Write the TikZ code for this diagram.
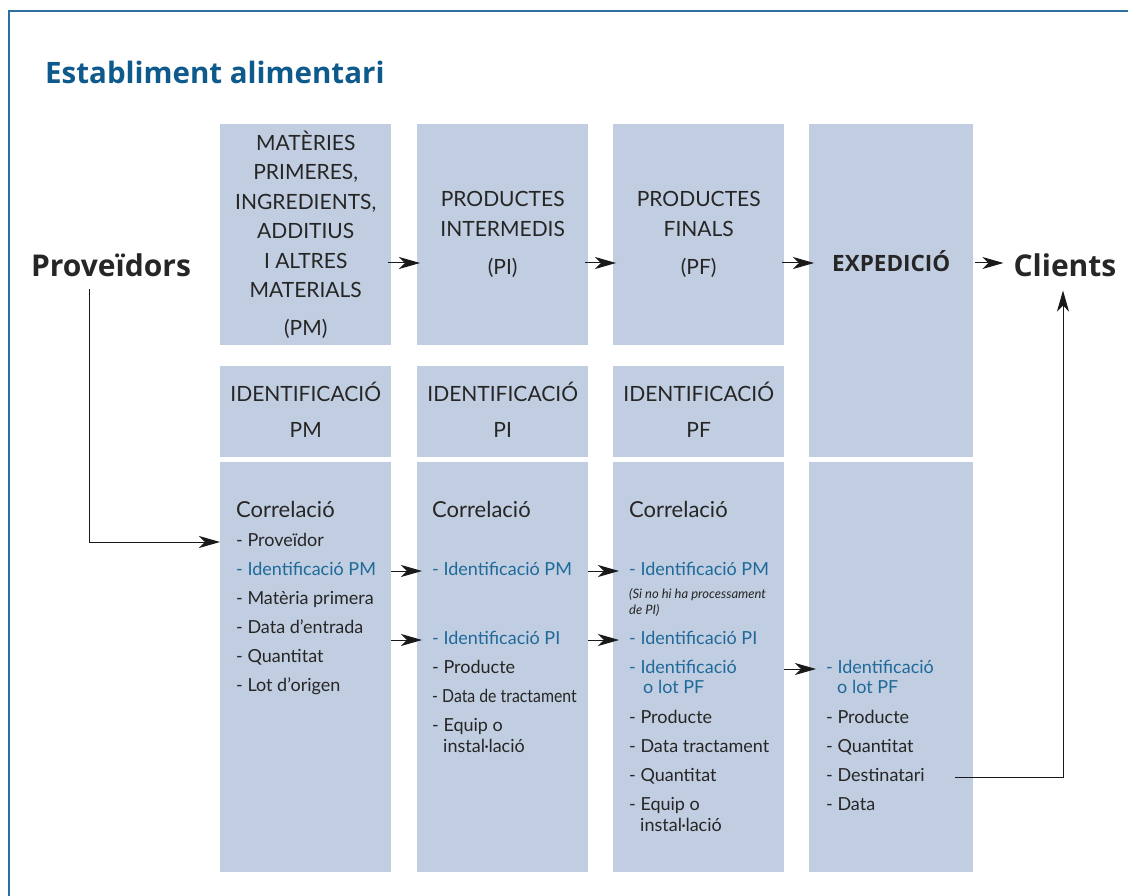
\documentclass[tikz,border=0pt]{standalone}
\usepackage{fontspec}
\setmainfont{Lato}
\newfontfamily\headfont{Open Sans}
\usetikzlibrary{arrows.meta}

\definecolor{boxfill}{HTML}{C1CDE0}
\definecolor{linkblue}{HTML}{1F6A9A}
\definecolor{titleblue}{HTML}{0F5A8C}
\definecolor{framecol}{HTML}{2D6FA0}

\begin{document}
\begin{tikzpicture}[x=1pt,y=-1pt,
		every node/.style={inner sep=0pt,text=black!85},
		box/.style={fill=boxfill,anchor=north west,minimum width=171pt,align=center,
			font=\fontsize{21}{29.5}\selectfont},
		item/.style={anchor=west,text height=13pt,text depth=4pt,font=\fontsize{18}{20}\selectfont},
		link/.style={item,text=linkblue},
		corr/.style={item,font=\fontsize{22}{24}\selectfont},
		side/.style={anchor=base,font=\headfont\bfseries\fontsize{30}{32}\selectfont},
		arr/.style={-{Stealth[length=21pt,width=12pt,inset=6pt]},line width=1pt,draw=black!90}]
	\useasboundingbox (0,0) rectangle (1128,896);
	\draw[framecol,line width=1.5pt] (9,896) -- (9,11) -- (1128,11);
	\node[anchor=base west,text=titleblue,font=\headfont\bfseries\fontsize{29.5}{32}\selectfont] (title) at (45,84) {Establiment alimentari};
	\coordinate (flow) at (0,263);

	% outside
	\node[side] (prov) at (111,277) {Proveïdors};
	\node[side] (cli) at (1065,277) {Clients};

	% top row
	\node[box,minimum height=221pt] (pm) at (220,124) {MATÈRIES\\PRIMERES,\\INGREDIENTS,\\ADDITIUS\\I ALTRES\\MATERIALS\\[8pt](PM)};
	\node[box,minimum height=221pt] (pi) at (417,124) {PRODUCTES\\INTERMEDIS\\[9pt](PI)};
	\node[box,minimum height=221pt] (pf) at (613,124) {PRODUCTES\\FINALS\\[9pt](PF)};
	\node[box,minimum width=164pt,minimum height=333pt] (exp) at (809,124) {};
	\node[anchor=base west,font=\headfont\bfseries\fontsize{22.5}{24}\selectfont] (expt) at (832,272) {EXPEDICIÓ};

	% identification row
	\node[box,minimum height=91pt] (idpm) at (220,366) {IDENTIFICACIÓ\\[7pt]PM\vphantom{g}};
	\node[box,minimum height=91pt] (idpi) at (417,366) {IDENTIFICACIÓ\\[7pt]PI\vphantom{g}};
	\node[box,minimum height=91pt] (idpf) at (613,366) {IDENTIFICACIÓ\\[7pt]PF\vphantom{g}};

	% correlation row
	\node[box,minimum height=410pt] (cpm) at (220,462) {};
	\node[box,minimum height=410pt] (cpi) at (417,462) {};
	\node[box,minimum height=410pt] (cpf) at (613,462) {};
	\node[box,minimum width=164pt,minimum height=410pt] (cexp) at (809,462) {};

	% PM
	\node[corr] (hpm) at (236,513) {Correlació};
	\node[item] (pv) at (236,542) {- Proveïdor};
	\node[link] (pmid) at (236,571) {- Identificació PM};
	\node[item] (mp) at (236,600) {- Matèria primera};
	\node[item] (de) at (236,629) {- Data d’entrada};
	\node[item] (qpm) at (236,658) {- Quantitat};
	\node[item] (lo) at (236,687) {- Lot d’origen};

	% PI
	\node[corr] (hpi) at (432,513) {Correlació};
	\node[link] (piid1) at (432,571) {- Identificació PM};
	\node[link] (piid2) at (432,640) {- Identificació PI};
	\node[item] (pip) at (432,669) {- Producte};
	\node[item] (pid) at (432,698) {\scalebox{0.88}[1]{- Data de tractament}};
	\node[item] (pie) at (432,727) {- Equip o};
	\node[item] (pii) at (443,748) {instal·lació};

	% PF
	\node[corr] (hpf) at (629,513) {Correlació};
	\node[link] (pfid1) at (629,571) {- Identificació PM};
	\node[anchor=north west,align=left,font=\itshape\fontsize{13}{16.5}\selectfont] (note) at (629,588) {(Si no hi ha processament\\de PI)};
	\node[link] (pfid2) at (629,640) {- Identificació PI};
	\node[link] (pfid3) at (629,669) {- Identificació};
	\node[link] (pflot) at (643,689) {o lot PF};
	\node[item] (pfp) at (629,719) {- Producte};
	\node[item] (pfd) at (629,748) {- Data tractament};
	\node[item] (pfq) at (629,777) {- Quantitat};
	\node[item] (pfe) at (629,806) {- Equip o};
	\node[item] (pfi) at (640,827) {instal·lació};

	% expedicio
	\node[link] (exid) at (826,669) {- Identificació};
	\node[link] (exlot) at (837,689) {o lot PF};
	\node[item] (exp2) at (826,719) {- Producte};
	\node[item] (exq) at (826,748) {- Quantitat};
	\node[item] (exd) at (826,777) {- Destinatari};
	\node[item] (exdt) at (826,806) {- Data};

	% flow arrows
	\draw[arr] ([xshift=-3pt]pm.east |- flow) -- ([xshift=3pt]pi.west |- flow);
	\draw[arr] ([xshift=-3pt]pi.east |- flow) -- ([xshift=3pt]pf.west |- flow);
	\draw[arr] ([xshift=-2pt]pf.east |- flow) -- ([xshift=5pt]exp.west |- flow);
	\draw[arr] ([xshift=2pt]exp.east |- flow) -- ([xshift=-10pt]cli.west |- flow);
	\draw[arr] (cpm.east |- pmid.west) -- ([xshift=-10pt]piid1.west);
	\draw[arr] (cpm.east |- piid2.west) -- ([xshift=-10pt]piid2.west);
	\draw[arr] (cpi.east |- pfid1.west) -- ([xshift=-10pt]pfid1.west);
	\draw[arr] (cpi.east |- pfid2.west) -- ([xshift=-10pt]pfid2.west);
	\draw[arr] (cpf.east |- exid.west) -- ([xshift=-10pt]exid.west);
	\draw[arr] ([xshift=-22pt,yshift=-12pt]prov.south) |- (cpm.west |- pv.west);
	\draw[arr] ([xshift=-18pt]cexp.east |- exd.west) -| ([xshift=-2pt,yshift=-13pt]cli.south);
\end{tikzpicture}
\end{document}
